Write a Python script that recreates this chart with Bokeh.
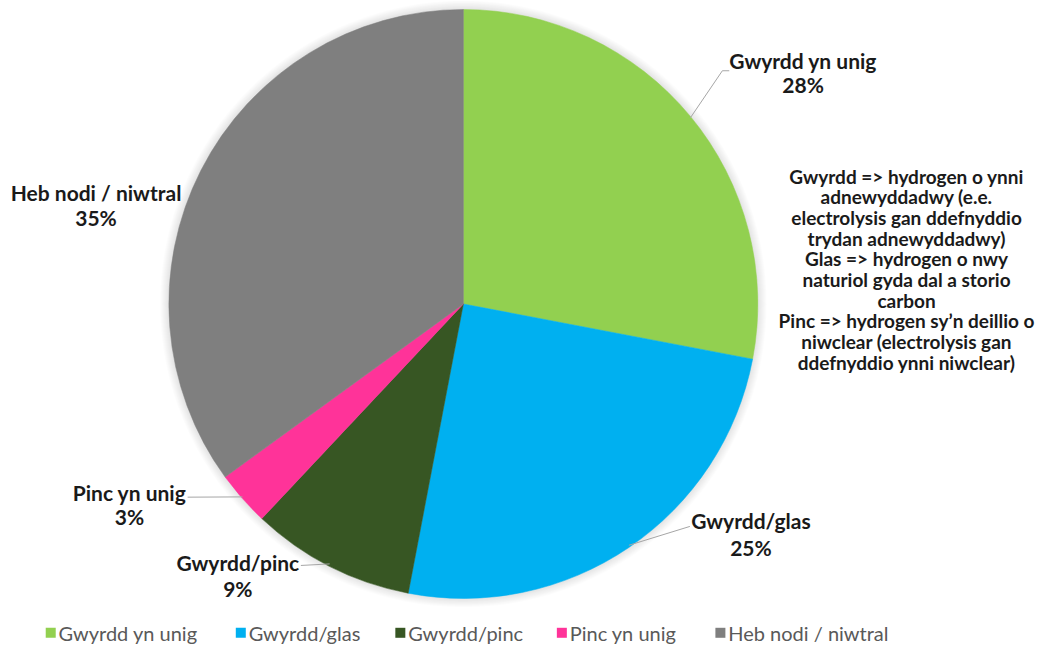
import numpy as np
from bokeh.plotting import figure
from bokeh.models import Range1d
from bokeh.core.properties import value
from bokeh.embed import file_html
from bokeh.resources import INLINE

# ---- data ----
categories = ["Gwyrdd yn unig", "Gwyrdd/glas", "Gwyrdd/pinc", "Pinc yn unig", "Heb nodi / niwtral"]
percent = [28, 25, 9, 3, 35]
colors = ["#92D050", "#00B0F0", "#375623", "#FF3399", "#7F7F7F"]
note_lines = [
    "Gwyrdd => hydrogen o ynni",
    "adnewyddadwy (e.e.",
    "electrolysis gan ddefnyddio",
    "trydan adnewyddadwy)",
    "Glas => hydrogen o nwy",
    "naturiol gyda dal a storio",
    "carbon",
    "Pinc => hydrogen sy\u2019n deillio o",
    "niwclear (electrolysis gan",
    "ddefnyddio ynni niwclear)",
]

# ---- layout (reference pixel coords; y measured from top) ----
W, H = 1038, 644
REF_W, REF_H = 1054, 660
def fy(y):
    return REF_H - y

CX, CY, R = 470, 311, 299
label_pos = [(815, 62), (762, 533), (241, 576), (131, 504), (97, 197)]
pct_dy = [24, 28, 27, 25, 25]
leader_anchor = [(733, 72), (700, 539), (305, 579), (190, 509), None]
FONT = "Lato"

p = figure(width=W, height=H, x_range=Range1d(0, REF_W), y_range=Range1d(0, REF_H),
           output_backend="svg", toolbar_location=None, min_border=0)
p.axis.visible = False
p.grid.visible = False
p.outline_line_color = None
p.background_fill_color = "white"

# soft shadow around pie
for k in range(1, 10):
    p.circle(x=CX, y=fy(CY), radius=R + k, fill_color="#000000", fill_alpha=0.012,
             line_color=None)

frac = np.array(percent, dtype=float) / sum(percent)
cum = np.concatenate([[0.0], np.cumsum(frac)])
start = np.pi / 2 - 2 * np.pi * cum[1:]
end = np.pi / 2 - 2 * np.pi * cum[:-1]
p.wedge(x=CX, y=fy(CY), radius=R, start_angle=start, end_angle=end,
        direction="anticlock", fill_color=colors, line_color=colors, line_width=0.5)

mid = np.pi / 2 - 2 * np.pi * (cum[:-1] + cum[1:]) / 2
for i, cat in enumerate(categories):
    lx, ly = label_pos[i]
    p.text(x=[lx], y=[fy(ly)], text=[cat], text_align="center", text_baseline="middle",
           text_font=value(FONT), text_font_style="bold", text_font_size="21px",
           text_color="#1a1a1a")
    p.text(x=[lx], y=[fy(ly + pct_dy[i])], text=[f"{percent[i]}%"], text_align="center",
           text_baseline="middle", text_font=value(FONT), text_font_style="bold",
           text_font_size="21px", text_color="#1a1a1a")
    if leader_anchor[i] is not None:
        ax, ay = leader_anchor[i]
        ex = CX + R * np.cos(mid[i])
        ey = fy(CY) + R * np.sin(mid[i])
        if i == 0:
            xs = [ax + 7, ax, ex]
            ys = [fy(ay), fy(ay), ey]
        else:
            xs = [ax, ex]
            ys = [fy(ay), ey]
        p.line(x=xs, y=ys, line_color="#A6A6A6", line_width=1)

# explanatory note
for j, t in enumerate(note_lines):
    p.text(x=[920], y=[fy(180 + j * 21.2)], text=[t], text_align="center",
           text_baseline="middle", text_font=value(FONT), text_font_style="bold",
           text_font_size="19px", text_color="#1a1a1a")

# legend
leg_sq_x = [51, 244, 406, 570, 731]
LEG_Y = 648
for i, cat in enumerate(categories):
    p.scatter(x=[leg_sq_x[i]], y=[fy(LEG_Y)], marker="square", size=10,
              fill_color=colors[i], line_color=None)
    p.text(x=[leg_sq_x[i] + 8], y=[fy(LEG_Y)], text=[cat], text_align="left",
           text_baseline="middle", text_font=value(FONT), text_font_size="20px",
           text_color="#595959")

open("out.html", "w").write(file_html(p, INLINE))
